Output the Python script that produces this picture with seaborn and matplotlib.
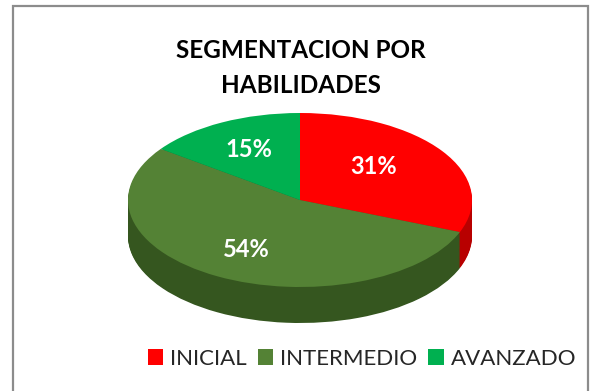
import matplotlib
matplotlib.use("Agg")
import matplotlib.pyplot as plt
from matplotlib.patches import Rectangle
import numpy as np
import seaborn as sns

# Segment data
categories = ["INICIAL", "INTERMEDIO", "AVANZADO"]
shares = [31, 54, 15]
title_lines = ["SEGMENTACION POR", "HABILIDADES"]

sns.set_theme(style="white")
plt.rcParams["font.family"] = ["Lato", "DejaVu Sans"]

top_colors = sns.color_palette(["#FF0000", "#548235", "#00B050"])
side_colors = sns.color_palette(["#B80000", "#35561F", "#007A38"])

fig = plt.figure(figsize=(5.9, 3.91), dpi=100)
ax = fig.add_axes([0, 0, 1, 1])

# Pixel geometry of the tilted disc (unit circle squashed into an ellipse)
W, H = 590, 391
cx_px, cy_px = 300, 200          # centre of top face, from top-left
rx_px, ry_px = 172, 87           # ellipse half-axes
depth = 36 / ry_px               # disc thickness in y-units

# Side wall: stacked copies of the pie, shifted downward
for d in np.linspace(depth, 0.02, 40):
    ax.pie(shares, colors=side_colors, startangle=90, counterclock=False,
           center=(0, -d), radius=1,
           wedgeprops=dict(linewidth=0, antialiased=True))

# Top face with percentage labels
wedges, _, autotexts = ax.pie(
    shares, colors=top_colors, startangle=90, counterclock=False,
    center=(0, 0), radius=1, autopct="%1.0f%%", pctdistance=0.65,
    wedgeprops=dict(linewidth=0, antialiased=True),
    textprops=dict(color="white", fontsize=17, fontweight="bold"))
x0, y0 = autotexts[0].get_position()
autotexts[0].set_position((x0 - 0.11, y0 + 0.02))

ax.set_aspect("auto")
ax.set_xlim(-cx_px / rx_px, (W - cx_px) / rx_px)
ax.set_ylim(-(H - cy_px) / ry_px, cy_px / ry_px)
ax.axis("off")

fig.text(301 / W, 1 - 68 / H, "\n".join(title_lines), ha="center", va="center",
         fontsize=17.5, fontweight="bold", color="black", linespacing=1.6)

fig.legend(wedges, categories, loc="center", bbox_to_anchor=(362 / W, 1 - 359 / H),
           ncol=3, frameon=False, fontsize=16, handlelength=0.7, handleheight=0.7,
           handletextpad=0.3, columnspacing=0.5, borderaxespad=0)

fig.patches.append(Rectangle((13 / W, -0.1), (588 - 13) / W, 1.1 - 6 / H,
                             transform=fig.transFigure, fill=False,
                             edgecolor="#8C8C8C", linewidth=1.6))

fig.savefig("out.png", dpi=100)
